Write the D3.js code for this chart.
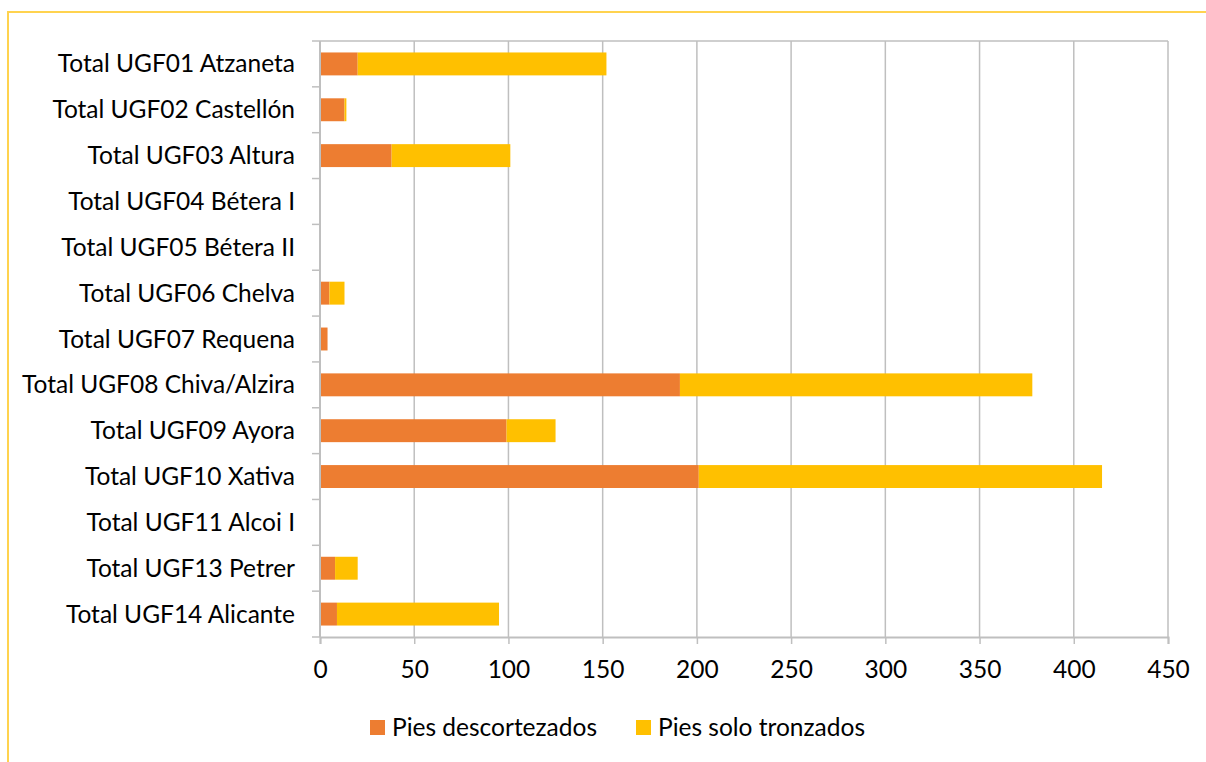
<!DOCTYPE html>
<html>
<head>
<meta charset="utf-8">
<script src="https://cdn.jsdelivr.net/npm/d3@7"></script>
<style>
  body{margin:0;background:#fff;}
  text{font-family:Lato,"Open Sans",sans-serif;fill:#000;}
</style>
</head>
<body>
<div id="chart"></div>
<script>
// categories, top to bottom
const categories = [
  'Total UGF01 Atzaneta','Total UGF02 Castellón','Total UGF03 Altura',
  'Total UGF04 Bétera I','Total UGF05 Bétera II','Total UGF06 Chelva',
  'Total UGF07 Requena','Total UGF08 Chiva/Alzira','Total UGF09 Ayora',
  'Total UGF10 Xativa','Total UGF11 Alcoi I','Total UGF13 Petrer',
  'Total UGF14 Alicante'
];
const descortezados = [20, 13, 38, 0, 0, 5, 4, 191, 99, 201, 0, 8, 9];
const soloTronzados = [132, 1, 63, 0, 0, 8, 0, 187, 26, 214, 0, 12, 86];
const seriesNames = ['Pies descortezados', 'Pies solo tronzados'];
const xTicks = [0, 50, 100, 150, 200, 250, 300, 350, 400, 450];

const W = 1206, H = 762;
const margin = {top: 41, right: 38, bottom: 125, left: 320};
const colors = ['#ED7D31', '#FFC000'];
const fontSize = 24.5;

const svg = d3.select('#chart').append('svg')
  .attr('width', W).attr('height', H);

// outer frame (yellow)
svg.append('path')
  .attr('d', `M8,${H} L8,12 L${W},12`)
  .attr('fill', 'none').attr('stroke', '#FFD34F').attr('stroke-width', 2);

const innerW = W - margin.left - margin.right;
const innerH = H - margin.top - margin.bottom;

const plot = svg.append('g')
  .attr('transform', 'translate(' + margin.left + ',' + margin.top + ')');

const xScale = d3.scaleLinear().domain([0, 450]).range([0, innerW]);
const yScale = d3.scaleBand().domain(categories).range([0, innerH]).paddingInner(0.5).paddingOuter(0.25);

const rows = categories.map((c, i) => ({cat: c, a: descortezados[i], b: soloTronzados[i]}));
const stack = d3.stack().keys(['a', 'b'])(rows);

// gridlines
plot.append('g').selectAll('line').data(xTicks).enter().append('line')
  .attr('x1', d => xScale(d)).attr('x2', d => xScale(d))
  .attr('y1', 0).attr('y2', innerH)
  .attr('stroke', '#BFBFBF').attr('stroke-width', 1.5);

// top border of plot area
plot.append('line')
  .attr('x1', 0).attr('x2', innerW).attr('y1', 0).attr('y2', 0)
  .attr('stroke', '#BFBFBF').attr('stroke-width', 1.5);

// bars
plot.append('g').selectAll('g').data(stack).enter().append('g')
  .attr('fill', (d, i) => colors[i])
  .selectAll('rect').data(d => d).enter().append('rect')
  .attr('x', d => xScale(d[0]))
  .attr('width', d => xScale(d[1]) - xScale(d[0]))
  .attr('y', d => yScale(d.data.cat))
  .attr('height', yScale.bandwidth());

// x axis
const xAxis = d3.axisBottom(xScale).tickValues(xTicks).tickSize(7);
const gx = plot.append('g')
  .attr('transform', 'translate(0,' + innerH + ')')
  .call(xAxis);
gx.select('.domain').attr('stroke', '#BFBFBF').attr('stroke-width', 2);
gx.selectAll('.tick line').attr('stroke', '#BFBFBF').attr('stroke-width', 1.5);
gx.selectAll('text').attr('font-size', fontSize).attr('fill', '#000')
  .attr('font-family', 'Lato, sans-serif')
  .attr('y', 41).attr('dy', 0);

// y axis: line plus ticks at category boundaries
const bounds = d3.range(categories.length + 1).map(i => i * innerH / categories.length);
plot.append('line')
  .attr('x1', 0).attr('x2', 0).attr('y1', 0).attr('y2', innerH)
  .attr('stroke', '#BFBFBF').attr('stroke-width', 2);
plot.append('g').selectAll('line').data(bounds).enter().append('line')
  .attr('x1', -8).attr('x2', 0).attr('y1', d => d).attr('y2', d => d)
  .attr('stroke', '#BFBFBF').attr('stroke-width', 1.5);

plot.append('g').selectAll('text').data(categories).enter().append('text')
  .attr('x', -25)
  .attr('y', d => yScale(d) + yScale.bandwidth() / 2)
  .attr('dy', '0.35em')
  .attr('text-anchor', 'end')
  .attr('font-size', fontSize)
  .text(d => d);

// legend
const legendX = [370, 636];
const legend = svg.append('g');
seriesNames.forEach((n, i) => {
  legend.append('rect')
    .attr('x', legendX[i]).attr('y', 720).attr('width', 15).attr('height', 15)
    .attr('fill', colors[i]);
  legend.append('text')
    .attr('x', legendX[i] + 22).attr('y', 736)
    .attr('font-size', fontSize)
    .text(n);
});
</script>
</body>
</html>
